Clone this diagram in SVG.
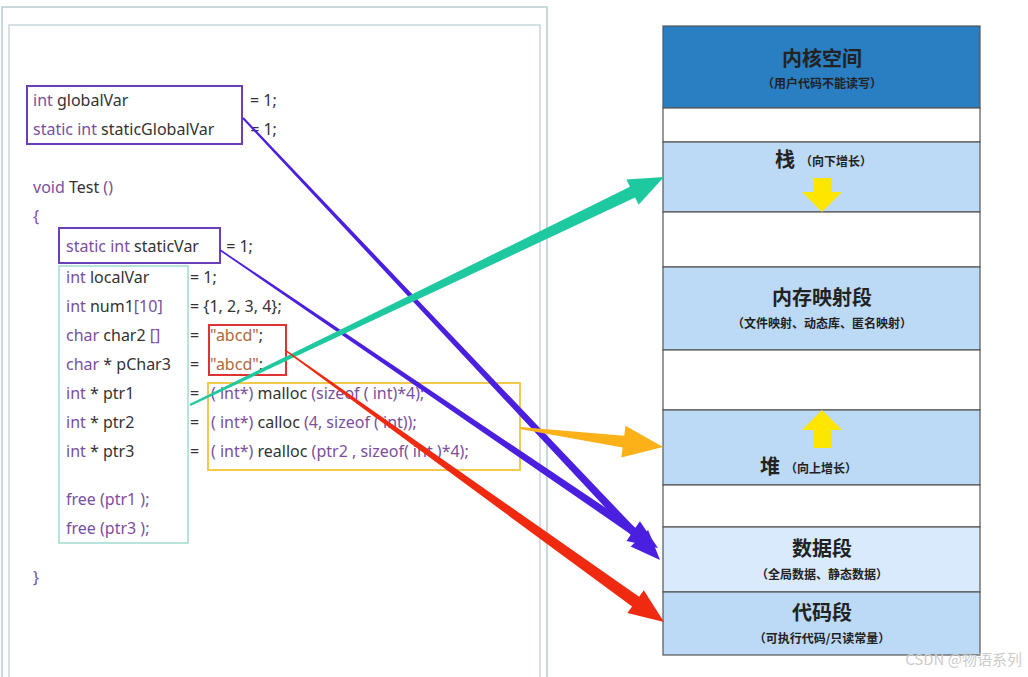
<svg xmlns="http://www.w3.org/2000/svg" width="1028" height="677" viewBox="0 0 1028 677">
<style>
.c{font-family:"Noto Sans","Open Sans",sans-serif;font-size:16px;fill:#333}
.k{fill:#7a4fa0}
.s{fill:#b0683a}
.seg{stroke:#555;stroke-width:1.2}
.t1{font-family:"Noto Sans CJK SC",sans-serif;font-size:20px;font-weight:bold;fill:#222;text-anchor:middle}
.t2{font-family:"Noto Sans CJK SC",sans-serif;font-size:12px;font-weight:bold;fill:#222;text-anchor:middle}
</style>
<rect width="1028" height="677" fill="#fff"/>
<g id="frame">
<rect x="2" y="7" width="545" height="680" fill="none" stroke="#b8ccd0" stroke-width="1.5"/>
<rect x="9" y="25" width="531" height="660" fill="none" stroke="#b8ccd0" stroke-width="1.2"/>
</g>
<g id="code" class="c">
<text x="33" y="106"><tspan class="k">int</tspan> globalVar<tspan x="250">= 1;</tspan></text>
<text x="33" y="135"><tspan class="k">static int</tspan> staticGlobalVar<tspan x="246"> = 1;</tspan></text>
<text x="33" y="193"><tspan class="k">void</tspan> Test <tspan class="k">()</tspan></text>
<text x="33" y="222" class="k">{</text>
<text x="66" y="252"><tspan class="k">static int</tspan> staticVar<tspan x="222"> = 1;</tspan></text>
<text x="66" y="283"><tspan class="k">int</tspan> localVar<tspan x="190">= 1;</tspan></text>
<text x="66" y="312"><tspan class="k">int</tspan> num1<tspan class="k">[10]</tspan><tspan x="190">= {1, 2, 3, 4};</tspan></text>
<text x="66" y="341"><tspan class="k">char</tspan> char2 <tspan class="k">[]</tspan><tspan x="190">= </tspan><tspan x="210" class="s">"abcd"</tspan>;</text>
<text x="66" y="370"><tspan class="k">char</tspan> * pChar3<tspan x="190">= </tspan><tspan x="210" class="s">"abcd"</tspan>;</text>
<text x="66" y="399"><tspan class="k">int</tspan> * ptr1<tspan x="190">= </tspan><tspan x="211" class="k">( int*)</tspan> malloc <tspan class="k">(sizeof ( int)*4);</tspan></text>
<text x="66" y="428"><tspan class="k">int</tspan> * ptr2<tspan x="190">= </tspan><tspan x="211" class="k">( int*)</tspan> calloc <tspan class="k">(4, sizeof ( int));</tspan></text>
<text x="66" y="457"><tspan class="k">int</tspan> * ptr3<tspan x="190">= </tspan><tspan x="211" class="k">( int*)</tspan> realloc <tspan class="k">(ptr2 , sizeof( int )*4);</tspan></text>
<text x="66" y="505" class="k">free (ptr1 );</text>
<text x="66" y="534" class="k">free (ptr3 );</text>
<text x="33" y="583" class="k">}</text>
</g>
<g id="boxes" fill="none" stroke-width="2">
<rect x="27" y="86" width="215" height="58" stroke="#6a3fb8"/>
<rect x="59" y="228" width="161" height="35" stroke="#6a3fb8"/>
<rect x="59" y="266" width="129" height="277" stroke="#9edccf" stroke-width="1.5"/>
<rect x="209" y="325" width="77" height="50" stroke="#d33"/>
<rect x="208" y="383" width="312" height="87" stroke="#f2c94c"/>
</g>
<g id="mem">
<rect x="663" y="26" width="317" height="82" fill="#2a7ec2" class="seg"/>
<rect x="663" y="108" width="317" height="34" fill="#fff" class="seg"/>
<rect x="663" y="142" width="317" height="70" fill="#bcd9f5" class="seg"/>
<rect x="663" y="212" width="317" height="55" fill="#fff" class="seg"/>
<rect x="663" y="267" width="317" height="83" fill="#bcd9f5" class="seg"/>
<rect x="663" y="350" width="317" height="60" fill="#fff" class="seg"/>
<rect x="663" y="410" width="317" height="75" fill="#bcd9f5" class="seg"/>
<rect x="663" y="485" width="317" height="42" fill="#fff" class="seg"/>
<rect x="663" y="527" width="317" height="65" fill="#d8eafb" class="seg"/>
<rect x="663" y="592" width="317" height="63" fill="#bcd9f5" class="seg"/>
<text x="822" y="66" class="t1">内核空间</text>
<text x="822" y="88" class="t2">（用户代码不能读写）</text>
<text x="775" y="167" class="t1" text-anchor="start" style="text-anchor:start">栈</text>
<text x="800" y="166" class="t2" style="text-anchor:start">（向下增长）</text>
<polygon points="813,178 831,178 831,192 842,192 822,212 802,192 813,192" fill="#ffe600"/>
<text x="822" y="305" class="t1">内存映射段</text>
<text x="822" y="328" class="t2">（文件映射、动态库、匿名映射）</text>
<polygon points="822,410 842,430 831,430 831,448 813,448 813,430 802,430" fill="#ffe600"/>
<text x="760" y="474" class="t1" style="text-anchor:start">堆</text>
<text x="785" y="473" class="t2" style="text-anchor:start">（向上增长）</text>
<text x="822" y="556" class="t1">数据段</text>
<text x="822" y="579" class="t2">（全局数据、静态数据）</text>
<text x="822" y="620" class="t1">代码段</text>
<text x="822" y="643" class="t2">（可执行代码/只读常量）</text>
</g>
<g id="connectors">
<polygon points="242.3,118.7 636.5,541 630.7,546.4 660,560 648.1,530 642.3,535.5 243.7,117.3" fill="#4b1fe0"/>
<polygon points="219.6,250.7 630.9,534.4 626.5,541 658,548 639.9,521.2 635.4,527.8 220.4,249.3" fill="#4b1fe0"/>
<polygon points="190.4,405.9 635.1,197.6 638.6,204.8 664,177 626.4,179.6 629.9,186.8 189.6,404.1" fill="#1fc9a0"/>
<polygon points="519.9,429 622.6,447.6 621.3,457.6 663,447 625.5,425.8 624.2,435.8 520.1,427" fill="#fbb117"/>
<polygon points="284.5,350.6 632.1,606.5 627.4,613 664,622 643.8,590.2 639.1,596.7 285.5,349.4" fill="#f02a10"/>
</g>
<text x="1022" y="665" font-family="Noto Sans CJK SC,sans-serif" font-size="15" fill="#ccc" text-anchor="end">CSDN @物语系列</text>
</svg>
